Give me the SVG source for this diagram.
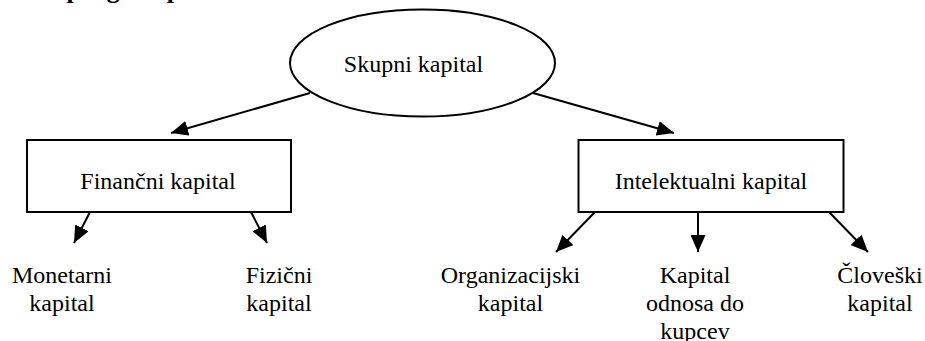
<svg xmlns="http://www.w3.org/2000/svg" width="925" height="341" viewBox="0 0 925 341">
  <style>
    text { font-family: 'Liberation Serif', 'Times New Roman', Times, 'DejaVu Serif', serif; fill: #000; }
    .t { font-size: 24px; text-anchor: middle; }
    .h { font-size: 26px; font-weight: bold; }
    .shape { fill: #fff; stroke: #000; stroke-width: 2; }
    .conn { stroke: #000; stroke-width: 2; fill: none; marker-end: url(#arrow); }
  </style>
  <defs>
    <marker id="arrow" markerUnits="userSpaceOnUse" markerWidth="17" markerHeight="15" refX="17" refY="7.5" orient="auto">
      <path d="M0,0 L17,7.5 L0,15 Z" fill="#000"/>
    </marker>
  </defs>
  <rect width="925" height="341" fill="#fff"/>
  <text class="h" x="23" y="-2.5" font-family="Liberation Serif, serif">Skupnega kapitala</text>

  <g id="skupni">
    <ellipse class="shape" cx="422.5" cy="63" rx="132.5" ry="53.5"/>
    <text class="t" x="413.5" y="71.5" font-family="Liberation Serif, serif">Skupni kapital</text>
  </g>
  <g id="financni">
    <rect class="shape" x="27" y="140" width="264" height="72"/>
    <text class="t" x="158" y="188.5" font-family="Liberation Serif, serif">Finančni kapital</text>
  </g>
  <g id="intelektualni">
    <rect class="shape" x="578.5" y="140" width="265" height="72"/>
    <text class="t" x="711" y="188.5" font-family="Liberation Serif, serif">Intelektualni kapital</text>
  </g>
  <g id="monetarni" font-family="Liberation Serif, serif">
    <text class="t" x="62" y="283">Monetarni</text>
    <text class="t" x="62" y="311">kapital</text>
  </g>
  <g id="fizicni" font-family="Liberation Serif, serif">
    <text class="t" x="279" y="283">Fizični</text>
    <text class="t" x="279" y="311">kapital</text>
  </g>
  <g id="organizacijski" font-family="Liberation Serif, serif">
    <text class="t" x="510.5" y="283">Organizacijski</text>
    <text class="t" x="510.5" y="311">kapital</text>
  </g>
  <g id="odnosi" font-family="Liberation Serif, serif">
    <text class="t" x="695" y="283">Kapital</text>
    <text class="t" x="695" y="311">odnosa do</text>
    <text class="t" x="695" y="339">kupcev</text>
  </g>
  <g id="cloveski" font-family="Liberation Serif, serif">
    <text class="t" x="880" y="283">Človeški</text>
    <text class="t" x="880" y="311">kapital</text>
  </g>

  <g id="connectors">
    <line class="conn" x1="310" y1="93" x2="171" y2="133"/>
    <line class="conn" x1="533" y1="93" x2="674" y2="133"/>
    <line class="conn" x1="90" y1="212" x2="74" y2="243"/>
    <line class="conn" x1="251" y1="212" x2="267" y2="243"/>
    <line class="conn" x1="595" y1="212" x2="556" y2="252"/>
    <line class="conn" x1="698" y1="212" x2="698" y2="252"/>
    <line class="conn" x1="829" y1="212" x2="868" y2="252"/>
  </g>
</svg>
